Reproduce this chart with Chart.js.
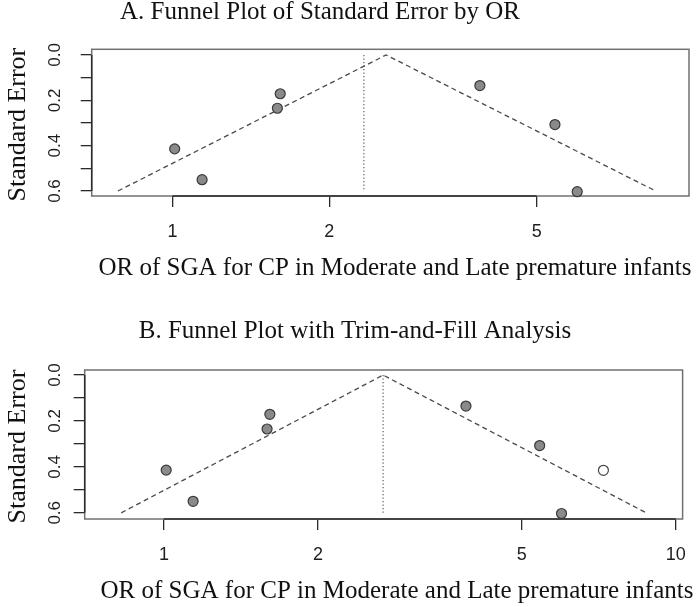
<!DOCTYPE html>
<html>
<head>
<meta charset="utf-8">
<script src="https://cdn.jsdelivr.net/npm/chart.js@4.4.1/dist/chart.umd.min.js"></script>
<style>
  body { margin: 0; background: #fff; }
  #wrap { position: relative; width: 700px; height: 607px; }
  canvas { position: absolute; left: 0; }
</style>
</head>
<body>
<div id="wrap">
  <canvas id="panel-a" width="700" height="300" style="top:0"></canvas>
  <canvas id="panel-b" width="700" height="307" style="top:300px"></canvas>
</div>
<script>
const studyOR = [1.01, 1.14, 1.61, 1.59, 3.89, 5.42, 5.98]
const studySE = [0.414, 0.550, 0.171, 0.235, 0.135, 0.307, 0.603]
const filledOR = [7.22]
const filledSE = [0.415]

const funnelOR_A = [0.786, 2.57, 8.46]
const funnelOR_B = [0.825, 2.68, 8.75]
const funnelSE = [0.6, 0, 0.6]
const estimateOR_A = [2.33, 2.33]
const estimateOR_B = [2.68, 2.68]
const estimateSE = [0, 0.6]

const orTicksA = [1, 2, 5]
const orTicksB = [1, 2, 5, 10]
const seTicks = [0, 0.1, 0.2, 0.3, 0.4, 0.5, 0.6]
const seTickLabels = ['0.0', '', '0.2', '', '0.4', '', '0.6']

const X_LABEL = 'OR of SGA for CP in Moderate and Late premature infants'
const Y_LABEL = 'Standard Error'
const SERIF = 'Liberation Serif'
const SANS = 'Liberation Sans'

function toPoints(xs, ys) {
    return xs.map((x, i) => ({ x, y: ys[i] }))
}

const panelDecor = {
    id: 'panelDecor',
    beforeDatasetsDraw(chart, args, opts) {
        const { ctx, chartArea: a, scales } = chart
        const t = opts.orTicks
        ctx.save()
        ctx.strokeStyle = '#707070'
        ctx.lineWidth = 1.5
        ctx.strokeRect(a.left, a.top, a.right - a.left, a.bottom - a.top)
        ctx.strokeStyle = '#2b2b2b'
        ctx.beginPath()
        ctx.moveTo(scales.x.getPixelForValue(t[0]), a.bottom)
        ctx.lineTo(scales.x.getPixelForValue(t[t.length - 1]), a.bottom)
        ctx.moveTo(a.left, scales.y.getPixelForValue(seTicks[0]))
        ctx.lineTo(a.left, scales.y.getPixelForValue(seTicks[seTicks.length - 1]))
        ctx.stroke()
        ctx.restore()
    },
    afterDraw(chart, args, opts) {
        const { ctx, chartArea: a } = chart
        ctx.save()
        ctx.fillStyle = '#111'
        ctx.font = `25px "${SERIF}"`
        ctx.textAlign = 'center'
        ctx.textBaseline = 'alphabetic'
        ctx.fillText(opts.title, opts.titleX, opts.titleY)
        ctx.fillText(X_LABEL, opts.labelX, opts.labelY)
        // y label, rotated like R does it
        ctx.font = `26px "${SERIF}"`
        ctx.translate(25, (a.top + a.bottom) / 2 + 2)
        ctx.rotate(-Math.PI / 2)
        ctx.fillText(Y_LABEL, 0, 0)
        ctx.restore()
    }
}

function setupPanel(id, cfg) {
    return new Chart(document.getElementById(id), {
        type: 'scatter',
        data: {
            datasets: [
                {
                    data: toPoints(studyOR, studySE),
                    pointRadius: 5,
                    backgroundColor: '#8a8a8a',
                    borderColor: '#3a3a3a',
                    borderWidth: 1.2,
                    clip: false
                },
                {
                    data: cfg.filled ? toPoints(filledOR, filledSE) : [],
                    pointRadius: 5,
                    backgroundColor: '#ffffff',
                    borderColor: '#444',
                    borderWidth: 1.2,
                    clip: false
                },
                {
                    data: toPoints(cfg.funnelOR, funnelSE),
                    showLine: true,
                    pointRadius: 0,
                    borderColor: '#4a4a4a',
                    borderWidth: 1.3,
                    borderDash: [5, 3.5]
                },
                {
                    data: toPoints(cfg.estimateOR, estimateSE),
                    showLine: true,
                    pointRadius: 0,
                    borderColor: '#6a6a6a',
                    borderWidth: 1.3,
                    borderDash: [1.3, 2.2]
                }
            ]
        },
        options: {
            responsive: false,
            animation: false,
            events: [],
            layout: {
                padding: { top: cfg.area.top, right: cfg.area.right, left: 0, bottom: 0 }
            },
            scales: {
                x: {
                    type: 'logarithmic',
                    min: cfg.xMin,
                    max: cfg.xMax,
                    afterBuildTicks: s => { s.ticks = cfg.orTicks.map(v => ({ value: v })) },
                    afterFit: s => { s.height = cfg.area.bottom },
                    border: { display: false },
                    grid: { drawOnChartArea: false, drawTicks: true, tickLength: 11, color: '#2b2b2b', lineWidth: 1.3 },
                    ticks: {
                        autoSkip: false,
                        maxRotation: 0,
                        padding: 14,
                        color: '#1e1e1e',
                        font: { family: SANS, size: 18 },
                        callback: (v, i) => String(cfg.orTicks[i])
                    }
                },
                y: {
                    type: 'linear',
                    reverse: true,
                    min: cfg.yMin,
                    max: cfg.yMax,
                    afterBuildTicks: s => { s.ticks = seTicks.map(v => ({ value: v })) },
                    afterFit: s => { s.width = cfg.area.left },
                    border: { display: false },
                    grid: { drawOnChartArea: false, drawTicks: true, tickLength: 11, color: '#2b2b2b', lineWidth: 1.3 },
                    ticks: {
                        autoSkip: false,
                        minRotation: 90,
                        maxRotation: 90,
                        crossAlign: 'center',
                        padding: cfg.yTickPadding,
                        color: '#1e1e1e',
                        font: { family: SANS, size: 17 },
                        callback: (v, i) => seTickLabels[i]
                    }
                }
            },
            plugins: {
                legend: { display: false },
                tooltip: { enabled: false },
                panelDecor: {
                    orTicks: cfg.orTicks,
                    title: cfg.title,
                    titleX: cfg.titleX,
                    titleY: cfg.titleY,
                    labelX: cfg.labelX,
                    labelY: cfg.labelY
                }
            }
        },
        plugins: [panelDecor]
    })
}

setupPanel('panel-a', {
    title: 'A. Funnel Plot of Standard Error by OR',
    titleX: 320, titleY: 19,
    labelX: 395, labelY: 275,
    orTicks: orTicksA,
    xMin: 0.718, xMax: 9.80,
    yMin: -0.025, yMax: 0.622,
    funnelOR: funnelOR_A,
    estimateOR: estimateOR_A,
    filled: false,
    yTickPadding: 14,
    area: { top: 49.3, right: 11, left: 91.7, bottom: 104 }
})

setupPanel('panel-b', {
    title: 'B. Funnel Plot with Trim-and-Fill Analysis',
    titleX: 355, titleY: 38,
    labelX: 397, labelY: 298,
    orTicks: orTicksB,
    xMin: 0.7486, xMax: 10.31,
    yMin: -0.022, yMax: 0.627,
    funnelOR: funnelOR_B,
    estimateOR: estimateOR_B,
    filled: true,
    yTickPadding: 7,
    area: { top: 70, right: 15, left: 84.7, bottom: 88 }
})
</script>
</body>
</html>
